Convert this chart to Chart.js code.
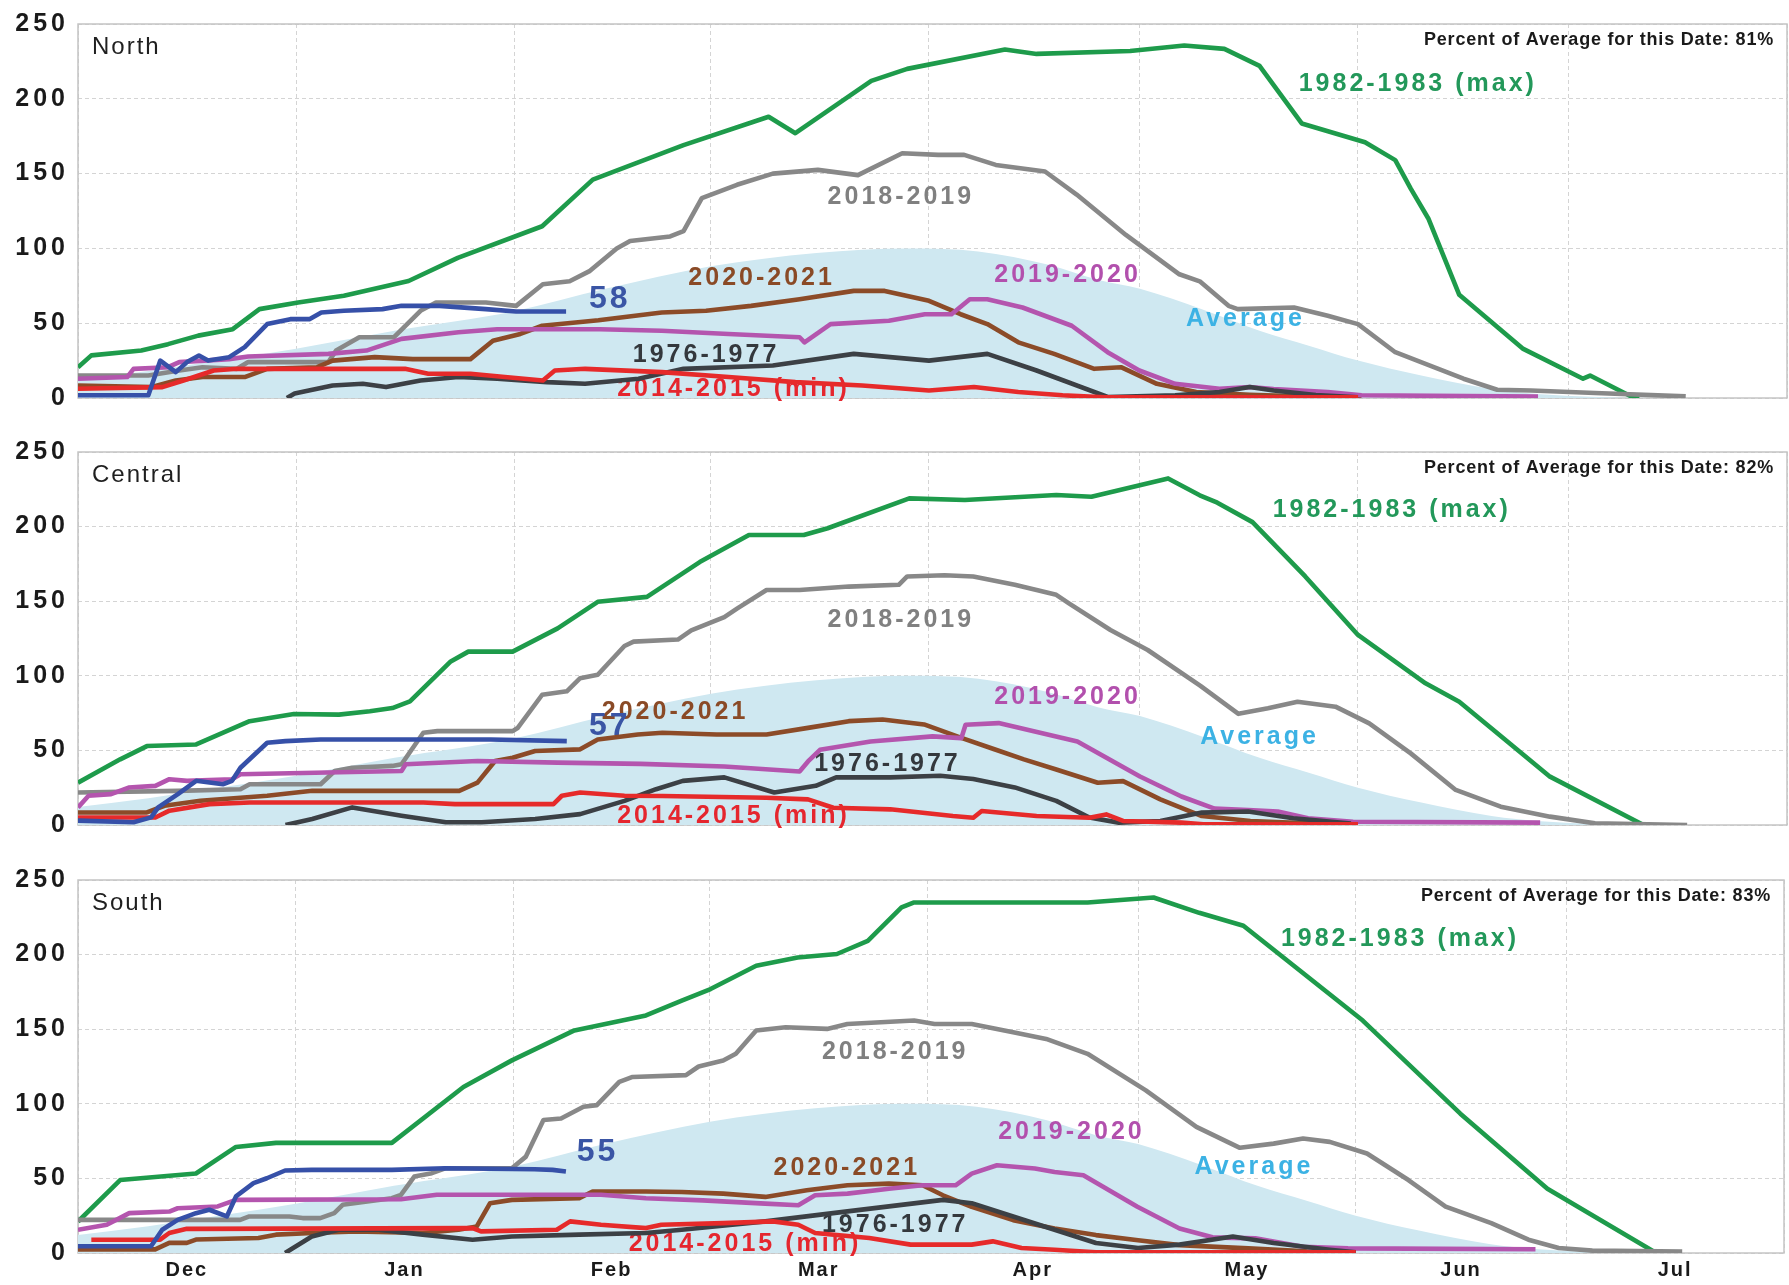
<!DOCTYPE html>
<html>
<head>
<meta charset="utf-8">
<title>Snow water content by region</title>
<script src="https://cdn.jsdelivr.net/npm/chart.js"></script>
<style>
  html, body { margin: 0; padding: 0; background: #fff; }
  body { width: 1789px; height: 1285px; position: relative; overflow: hidden; }
  .panel { position: absolute; left: 0; width: 1789px; }
</style>
</head>
<body>
<div class="panel" style="top:0;height:428px"><canvas id="north"></canvas></div>
<div class="panel" style="top:428px;height:428px"><canvas id="central"></canvas></div>
<div class="panel" style="top:856px;height:429px"><canvas id="south"></canvas></div>
<script>
// x = days since Dec 1, y = percent of April 1 average
const monthStarts = [0, 31, 62, 90, 121, 151, 182, 212, 243];
const monthLabels = ['Dec', 'Jan', 'Feb', 'Mar', 'Apr', 'May', 'Jun', 'Jul'];
const yTicks = [0, 50, 100, 150, 200, 250];
const regionNames = ['North', 'Central', 'South'];
const percentOfAverage = [81, 82, 83];
const currentValues = [58, 57, 55];
const seriesNames = ['1982-1983 (max)', '2018-2019', '2020-2021', '2019-2020', 'Average', '1976-1977', '2014-2015 (min)'];

const averageCurve = [[0,12],[10,18],[20,25],[31,33],[45,45],[62,58],[75,73],[90,88],[105,97],[118,100],[128,98],[138,89],[145,79],[151,73],[160,59],[168,45],[175,35],[182,25],[191,15],[201,6],[208,2.5],[215,0.8],[225,0],[243,0]];

// North
const northMax = [[0,20.5],[1.9,28.5],[9,31.7],[12.8,36],[17.1,41.7],[22,46],[25.8,59.4],[31.3,63.8],[37.8,68.3],[47,78.2],[54,93.7],[66,114.8],[73.2,146],[86.1,169],[98.2,188],[102,177],[112.8,212],[117.9,220],[131.8,233],[136.3,230],[149.6,232],[157.3,235.6],[163,233.4],[168,222],[174,183.5],[183,171],[187.3,159],[189.5,140],[192,120],[196.4,69],[205.5,32.8],[214,12.9],[215,15],[221,0.7],[222,0]];
const northGray = [[0,15],[10,15],[14.4,18.4],[17.7,20.6],[22.6,19.5],[24.2,24],[35.6,24],[36.7,31.7],[40,40.6],[44.9,40.6],[48.7,58.3],[50.9,63.8],[58,63.8],[62.3,61.6],[66.1,76],[69.9,78],[72.8,85],[76.6,100],[78.5,105],[84.2,108],[86.1,111.5],[88.7,133.6],[93.7,142.5],[98.8,150],[105.2,152.5],[110.9,149],[117.2,163.6],[122.3,162.5],[126,162.5],[130.5,155.8],[137.5,151.4],[142,136],[149,109],[156.6,82.7],[159.5,78],[163.6,61.6],[164.9,59.4],[172.9,60.5],[177.7,55],[182,49.4],[187.3,30.6],[191.6,22.8],[197,12.9],[201.8,5.5],[206.6,5],[215.7,3.3],[228.6,1.1]];
const northBrown = [[0,8.4],[10.5,7.3],[13.9,11.7],[17.7,14],[23.7,14],[26.9,19.5],[34,20.6],[36.2,25],[42.2,27.3],[47.6,26],[55.8,26],[59,38.3],[62.9,42.8],[66,48.3],[74,52],[83,57.2],[89.3,58.3],[95.7,61.6],[102.6,66],[110.3,71.6],[114.7,71.6],[121,65],[125.5,56],[129.3,49.4],[133.7,37.2],[138.8,29.5],[144.5,19.5],[148.3,20.6],[153.4,9.5],[159,4],[166.6,2.2],[175,1],[182.5,0.5]];
const northMagenta = [[0,12.9],[7,14],[7.9,19.5],[12.8,20.6],[14.4,24],[21.5,26],[24.2,27.7],[35.6,29.5],[41,31.7],[46,39.5],[54.1,43.9],[59.6,46],[74.2,46],[83,45],[92.5,42.8],[102.6,40.6],[103.3,37.2],[107,49.4],[115.3,51.6],[120.4,56],[124.2,56],[126.8,66],[129.3,66],[134.3,60.5],[141.3,48.3],[146.4,30.6],[150.9,18.4],[156,9.5],[162.3,6.2],[166.6,7.3],[170,6],[177.7,4],[182.5,1.8],[207.6,1]];
const northDark = [[29.7,0],[30.8,3],[36.2,8.4],[40.5,9.5],[43.8,7.3],[48.7,11.7],[54.1,14],[59.6,12.9],[66.7,10.6],[72.1,9.5],[79.7,12.9],[86.1,19.5],[98.8,21.7],[110.3,29.5],[121,25],[129.3,29.5],[136.3,18.4],[146.4,0.7],[156,1.8],[162.3,4],[166.6,7.3],[170,5],[176,2],[182,0.5]];
const northRed = [[0,6.2],[12,7.3],[15,11.7],[19.3,18.4],[22.6,19.5],[46.5,19.5],[49.8,16.2],[55.8,16.2],[60.7,14],[66.1,11.7],[67.8,18.4],[72.1,19.5],[83,17.3],[92.5,14],[102,10.6],[111.5,8.4],[121,5],[127.4,7.3],[133.7,4],[140,1.8],[146,0.5],[182,0.5]];
const northBlue = [[0,1.8],[10,1.8],[11.7,25],[13.9,17.3],[15.5,24],[17.2,28.4],[18.5,25],[21.5,27.3],[23.7,34],[26.9,49.4],[30.2,52.7],[32.9,52.7],[34.6,57.2],[37.8,58.3],[43.3,59.4],[46,61.6],[51.4,61.6],[58,59.4],[62.3,57.8],[69.4,57.8]];

// Central
const centralMax = [[0,28.4],[6,44],[9.8,52.9],[16.8,54],[24.4,69.6],[30.7,74.4],[37.1,74],[41.5,76.2],[44.7,78.4],[47.2,82.9],[53,109.6],[55.5,116.2],[61.8,116.2],[68.2,131.8],[73.9,149.6],[80.9,152.9],[88.4,176.2],[95.4,194.4],[103.2,194.4],[106.6,198.9],[118.2,218.9],[126.1,217.8],[139.1,221.2],[144.1,220],[155,232.3],[159.5,221],[162,216],[167,203],[174.5,166.6],[182,127.4],[191.6,95],[196.4,82.6],[209.3,32.4],[222.6,0]];
const centralGray = [[0,21.8],[14.2,22.9],[23.1,24],[24.4,27.3],[34.5,27.3],[36.5,36.2],[39,38.4],[44.7,39.6],[46,40.7],[49.1,61.8],[51.1,62.9],[61.8,62.9],[62.5,65],[66,87.3],[69.5,89.6],[71.4,98.4],[73.9,100.7],[77.7,120],[79,122.9],[85.3,124.3],[87.2,130.5],[91.9,139.3],[93.7,145],[97.9,157.5],[102.6,157.5],[109.6,159.8],[116.7,161],[117.9,166.6],[123.2,167.4],[127.3,166.6],[133.2,161],[139.1,154.3],[140.9,148.6],[146.8,130.7],[152.1,117.3],[159.6,93.3],[165,74.5],[169.2,78.2],[173.4,82.6],[178.8,79.3],[183.6,68.1],[189.5,48],[195.9,23.5],[202.3,12.3],[209.3,5.6],[215.7,1.1],[228.8,0]];
const centralBrown = [[0,8.4],[9.8,8.4],[12.3,12.9],[17.4,16.2],[26.9,19.6],[33.3,22.9],[54.2,22.9],[56.8,28.4],[59.3,42.9],[61.8,45.1],[65,49.6],[71.4,50.7],[73.9,57.3],[79.6,60.7],[83.1,61.8],[90.8,60.7],[97.9,60.7],[103.8,65.1],[109.6,69.6],[114.4,70.7],[120.3,67.4],[125.6,58.4],[130.4,50.6],[134.5,44],[139.1,37.2],[145,28.3],[148.6,29.4],[153.9,17.2],[159.8,6],[166.7,2.7],[175,1.2],[182,0.5]];
const centralMagenta = [[0,11.8],[1.5,19.6],[4.7,20.7],[7.2,25.1],[11,26.2],[13,30.7],[15.5,29.6],[21.9,30.7],[23.1,34],[46,36.2],[46.6,40.7],[56.8,42.9],[68.2,41.8],[80,41],[91.9,39.2],[102.6,35.9],[103.8,42.6],[105.5,50.4],[112.7,56],[121.5,59.4],[125.6,58.2],[126.2,67.2],[130.9,68.3],[142.1,56],[151,32.5],[156.9,19.1],[161.6,11],[166.4,10],[170.6,9],[174.9,4.5],[181.3,2.2],[207.9,1.6]];
const centralDark = [[29.5,0],[33.3,4],[39,11.8],[46,6.2],[52.3,1.8],[57.4,1.8],[65,4],[71.4,7.3],[77.7,16.2],[82.2,24],[86,29.6],[91.9,31.9],[99,21.8],[104.9,26.3],[107.8,31.9],[115.5,31.9],[122.6,33],[127.3,30.8],[133.2,25.2],[139.1,16.2],[143.8,5],[148,1.6],[153.9,2.7],[159.8,8.3],[166.4,9],[172.8,4.5],[181,1]];
const centralRed = [[0,5],[11,5],[13,9.6],[18.7,14],[24.4,15.1],[49.1,15.1],[53.6,14],[67.6,14],[68.8,19.6],[71.4,21.8],[77.7,19.6],[83.1,19.4],[97.9,18.3],[103.8,17.2],[107.4,11.6],[115.5,10.5],[124.4,6],[127.3,4.9],[128.5,9.4],[136.3,6],[143.8,4.9],[146.2,7.1],[148.6,2.7],[156.9,1.6],[160,0.5],[182,0.5]];
const centralBlue = [[0,2.9],[7.9,1.8],[10.4,5.1],[11.4,11.8],[14.2,20.7],[16.8,29.6],[20.6,27.3],[21.9,29.6],[23.1,38.4],[26.9,55.1],[29.5,56.2],[34.5,57.3],[58.7,57.3],[69.5,56.2]];

// South
const southMax = [[0,21.1],[6,48.9],[16.8,53.3],[22.5,71.1],[28.2,73.8],[44.7,73.8],[54.9,111.3],[61.8,129.1],[70.7,149.2],[80.9,159.2],[86,169.1],[90.1,176.9],[96.6,192.5],[102.5,198.1],[108.1,200.4],[112.5,209.2],[117.3,231.6],[119,234.9],[143.8,234.9],[153.2,238.3],[159.7,228],[166,219.3],[183,155.8],[196.9,93.4],[209.3,43],[224.8,0]];
const southGray = [[0,22.2],[23.1,22.2],[24.4,24.5],[30.1,24.5],[32,23.4],[34.5,23.4],[36.5,26.7],[37.7,32.3],[44.7,36.7],[46,38.9],[47.9,51.2],[50.4,53.5],[52.3,56.8],[61.8,56.8],[63.8,64.6],[66.3,89.1],[68.8,90.2],[72,98],[73.9,99.1],[77.1,114.7],[79,118],[86.6,119.2],[88.4,125],[91.9,129],[93.7,133.5],[96.6,149.1],[100.8,151.3],[106.7,150.2],[109.6,153.5],[119.1,155.8],[122,153.5],[127.3,153.5],[133.2,148],[137.9,143.5],[143.8,133.5],[152.1,109],[159.3,84.5],[165.5,70.5],[170.3,73.3],[174.5,76.7],[178.3,74.5],[183.6,66.7],[189.5,48.9],[194.8,31.1],[201.3,20],[206.6,8.9],[210.9,3.3],[215.7,1.6],[228.5,0.9]];
const southBrown = [[0,2.4],[11,2.4],[13,6.8],[15.5,6.8],[16.8,9],[25.7,10.1],[28.2,12.3],[33.3,13.4],[39.6,14.5],[49.1,13.4],[54.2,15.6],[56.8,17.8],[58.7,33.4],[61.8,35.6],[71.4,36.7],[73.3,41.2],[80.9,41.2],[86,40.9],[91.9,39.8],[97.9,37.6],[103.8,42],[109.6,45.4],[115.5,46.5],[120.3,45.4],[123.2,38.7],[127.3,30.9],[133.2,22],[139.1,16.4],[145,12],[151,8.6],[156.9,5.3],[166.7,3.1],[175,1.2],[182,0.5]];
const southMagenta = [[0,15.6],[4.1,18.9],[7.3,26.7],[13,27.8],[14.2,30],[19.9,31.2],[22.5,35.6],[46,36],[51.1,39],[74.5,39],[80.9,36.7],[89,35.3],[97.9,33.1],[102.6,32],[105,38.7],[109.6,39.8],[115.5,43.1],[120.3,45.4],[125,45.4],[127.3,53.2],[130.9,58.8],[136.3,56.6],[139.1,54.3],[143.2,52.1],[150.9,31],[156.9,16.4],[161.6,10.5],[167.7,9.8],[174.5,4.2],[180.9,3.1],[207.6,2.5]];
const southDark = [[29.5,0],[33.3,11.1],[37.1,15.6],[42.8,15.6],[49.1,12.3],[56.2,8.9],[61.8,11.1],[71.4,12.3],[80.9,13.4],[86,15.6],[97.9,21.2],[109.6,27.9],[123.2,35.6],[127.3,33.4],[133.2,24.5],[139.1,15.6],[145,6.7],[151,3.3],[156.9,5.6],[164.5,11.1],[170.3,6.7],[178.3,2.2],[182,0.5]];
const southRed = [[1.9,8.9],[11.7,8.9],[13,13.4],[15.5,16.2],[56.2,16.7],[57.4,14.5],[68.2,15.6],[70.1,21.2],[74.5,18.9],[80.9,16.7],[83.1,18.9],[91.9,20],[99,21.2],[102.6,18.9],[105,13.4],[112.7,10],[118.6,5.6],[127.3,5.6],[130.3,7.8],[134.4,3.3],[139.1,2.2],[145,0.5],[182,0.5]];
const southBlue = [[0,4.5],[10.4,4.5],[12,15.6],[14.2,22.2],[16.8,26.7],[18.7,29],[21.2,24.5],[22.5,37.9],[25,46.8],[26.9,50.1],[29.5,55.3],[33.3,55.7],[44.7,55.7],[52.3,56.8],[65,56.1],[67.6,55.7],[69.5,54.6]];

// styling (first dataset is drawn on top)
const FONT = '"Liberation Sans", Arial, sans-serif';
const lineColors = ['#3650a8', '#e62a2a', '#3c4045', '#b455ae', '#8c4b28', '#888888', '#1e9b4b'];
const noteColors = ['#23985a', '#808080', '#8a4a26', '#b250ad', '#3cb2e4', '#34383d', '#e5262e'];
const currentColor = '#3a55a5';
const avgFill = '#cfe8f1';
const gridColor = '#d4d4d4';

// label anchors (day, percent) for each panel: seriesNames order, then current value
const northNotes = [[190.5,210],[117,134],[97.2,80],[140.7,82],[166,53],[89.3,29],[93.2,6],[75.6,66]];
const centralNotes = [[186.8,211],[117,137.4],[84.9,75.7],[140.7,85.8],[168,59],[115.1,40.9],[93.2,6],[75.6,66.4]];
const southNotes = [[188.3,210.6],[116.4,134.4],[109.5,56.8],[141.5,80.9],[167.5,57.5],[116.4,18.7],[95,6],[74,67.5]];

const monthMids = monthLabels.map((_, i) => (monthStarts[i] + monthStarts[i + 1]) / 2);
const xTickValues = [...monthStarts, ...monthMids].sort((a, b) => a - b);

function spaceLabels(scale, spacing) {
    const draw = scale.drawLabels.bind(scale);
    scale.drawLabels = area => {
        const c = scale.ctx;
        c.save();
        c.letterSpacing = spacing;
        draw(area);
        c.restore();
    };
}

function drawText(ctx, text, x, y, font, color, align, spacing) {
    ctx.save();
    ctx.font = font;
    ctx.letterSpacing = spacing;
    ctx.fillStyle = color;
    ctx.textAlign = align;
    ctx.textBaseline = 'middle';
    ctx.fillText(text, x, y);
    ctx.restore();
}

const notesPlugin = {
    id: 'notes',
    afterLayout(chart) {
        const s = chart.scales;
        if (!s.y._spaced) {
            spaceLabels(s.y, '4px');
            spaceLabels(s.x, '2px');
            s.y._spaced = true;
        }
    },
    beforeDatasetsDraw(chart) {
        const {ctx, chartArea: a} = chart;
        ctx.save();
        ctx.strokeStyle = '#c4c4c4';
        ctx.lineWidth = 1.5;
        ctx.strokeRect(a.left, a.top, a.right - a.left, a.bottom - a.top);
        ctx.restore();
    },
    afterDatasetDraw(chart, args, opts) {
        // series labels sit above the average fill but under the lines
        if (args.index !== chart.data.datasets.length - 1) return;
        const {ctx, scales: {x, y}} = chart;
        opts.anchors.forEach(([d, v], i) => {
            const px = x.getPixelForValue(d);
            const py = y.getPixelForValue(v);
            if (i < seriesNames.length) {
                drawText(ctx, seriesNames[i], px, py, `bold 25px ${FONT}`, noteColors[i], 'center', '3px');
            } else {
                drawText(ctx, String(opts.current), px, py, `bold 32px ${FONT}`, currentColor, 'center', '3px');
            }
        });
    },
    afterDraw(chart, args, opts) {
        const {ctx, chartArea: a} = chart;
        drawText(ctx, opts.region, a.left + 14, a.top + 23, `24px ${FONT}`, '#1f1f1f', 'left', '2px');
        drawText(ctx, `Percent of Average for this Date: ${opts.pct}%`, a.right - 13, a.top + 16,
            `bold 18px ${FONT}`, '#1a1a1a', 'right', '0.8px');
    }
};

function makePanel(id, idx, series, anchors, pad, showMonths) {
    const datasets = series.map((pts, i) => ({
        data: pts.map(([x, y]) => ({x, y})),
        borderColor: lineColors[i],
        borderWidth: 4.6,
        borderJoinStyle: 'round',
        pointRadius: 0,
        fill: false,
        tension: 0,
    }));
    datasets.push({
        data: averageCurve.map(([x, y]) => ({x, y})),
        borderWidth: 0,
        borderColor: 'rgba(0,0,0,0)',
        backgroundColor: avgFill,
        fill: 'origin',
        pointRadius: 0,
        cubicInterpolationMode: 'monotone',
    });

    new Chart(document.getElementById(id), {
        type: 'line',
        data: {datasets},
        plugins: [notesPlugin],
        options: {
            responsive: true,
            maintainAspectRatio: false,
            animation: false,
            events: [],
            devicePixelRatio: 1,
            layout: {padding: {top: pad[0], bottom: pad[1], left: 0, right: 2}},
            plugins: {
                legend: {display: false},
                tooltip: {enabled: false},
                notes: {region: regionNames[idx], pct: percentOfAverage[idx], current: currentValues[idx], anchors},
            },
            scales: {
                x: {
                    type: 'linear',
                    min: 0,
                    max: 243,
                    afterBuildTicks: s => { s.ticks = xTickValues.map(v => ({value: v})); },
                    afterFit: s => { s.height = showMonths ? 32 : 0; },
                    grid: {
                        color: c => (c.tick && monthStarts.includes(c.tick.value)) ? gridColor : 'rgba(0,0,0,0)',
                        drawTicks: false,
                    },
                    border: {display: false, dash: [4, 3]},
                    ticks: {
                        display: showMonths,
                        autoSkip: false,
                        maxRotation: 0,
                        padding: 5,
                        color: '#1a1a1a',
                        font: {family: FONT, size: 20, weight: 'bold'},
                        callback: v => {
                            const i = monthMids.indexOf(v);
                            return i < 0 ? '' : monthLabels[i];
                        },
                    },
                },
                y: {
                    min: 0,
                    max: 250,
                    afterBuildTicks: s => { s.ticks = yTicks.map(v => ({value: v})); },
                    afterFit: s => { s.width = 78; },
                    grid: {color: gridColor, drawTicks: false},
                    border: {display: false, dash: [4, 3]},
                    ticks: {
                        padding: 9,
                        color: '#1a1a1a',
                        font: {family: FONT, size: 25, weight: 'bold'},
                    },
                },
            },
        },
    });
}

makePanel('north', 0, [northBlue, northRed, northDark, northMagenta, northBrown, northGray, northMax], northNotes, [23, 30], false);
makePanel('central', 1, [centralBlue, centralRed, centralDark, centralMagenta, centralBrown, centralGray, centralMax], centralNotes, [24, 31], false);
makePanel('south', 2, [southBlue, southRed, southDark, southMagenta, southBrown, southGray, southMax], southNotes, [23, 0], true);
</script>
</body>
</html>
